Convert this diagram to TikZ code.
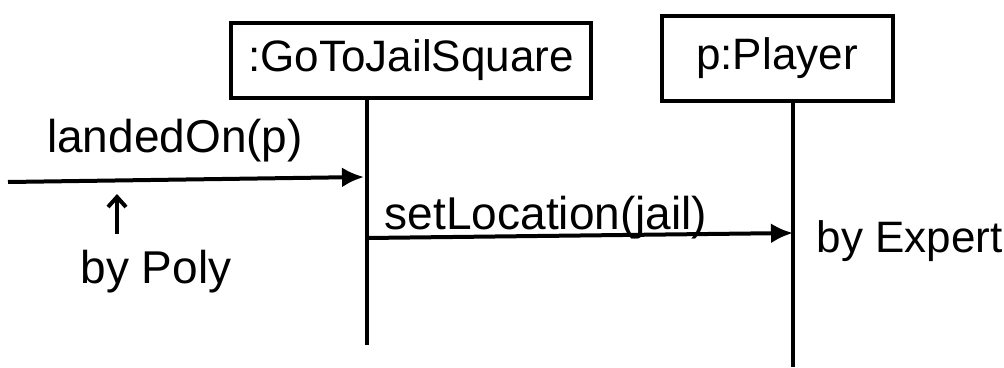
\documentclass[tikz,border=0pt]{standalone}
\usepackage{fontspec}
\newfontfamily\handfont{Liberation Sans}
\usepackage{tikz}
\usetikzlibrary{positioning,arrows.meta,calc}
\tikzset{
  lifebox/.style={draw,line width=4pt,inner sep=0pt,font=\handfont\fontsize{44}{48}\selectfont},
  lifeline/.style={line width=3.4pt},
  msg/.style={line width=4pt,-{Latex[length=22pt,width=20pt]}},
  msglabel/.style={anchor=base,font=\handfont\fontsize{46}{50}\selectfont},
}

\begin{document}
\begin{tikzpicture}[x=1pt,y=-1pt]
\useasboundingbox (0,0) rectangle (1004,367);
% objects
\node[lifebox,minimum width=360pt,minimum height=75pt] (jailsq) at (411,60) {:GoToJailSquare};
\node[lifebox,minimum width=231pt,minimum height=85pt] (player) at (777,58) {p:Player};
% lifelines
\coordinate (jailtop) at (367,97);
\coordinate (jailbot) at (367,345);
\coordinate (playtop) at (793,100);
\coordinate (playbot) at (793,367);
\draw[lifeline] (jailtop) -- (jailbot);
\draw[lifeline] (playtop) -- (playbot);
% messages
\coordinate (caller) at (8,182);
\coordinate (landhit) at (364,177);
\coordinate (setfrom) at (367,238);
\coordinate (sethit) at (793,233);
\draw[msg] (caller) -- (landhit);
\draw[msg] (setfrom) -- (sethit);
\node[msglabel] (landed) at (175,152) {landedOn(p)};
\node[msglabel] (setloc) at (546,229) {setLocation(jail)};
% GRASP notes
\node[msglabel] (poly) at (156,283) {by Poly};
\node[msglabel,anchor=base west,font=\handfont\fontsize{44}{48}\selectfont] (expert) at (813,252) {by Expert};
\coordinate (polytail) at (117,234);
\coordinate (polytip) at (117,194);
\draw[line width=4pt,-{Straight Barb[length=10pt,width=18pt]}] (polytail) -- (polytip);
\end{tikzpicture}
\end{document}
